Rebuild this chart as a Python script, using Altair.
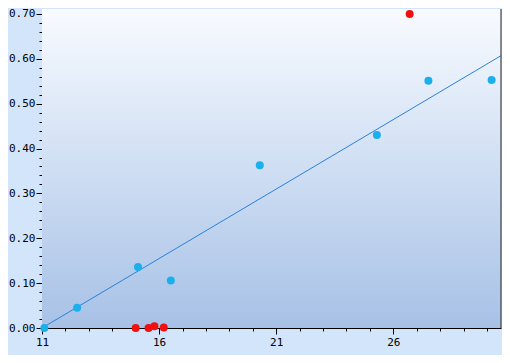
import altair as alt
import pandas as pd

# ---- data ----
blue_x = [11.1, 12.5, 15.1, 16.5, 20.3, 25.3, 27.5, 30.2]
blue_y = [0.0, 0.045, 0.136, 0.106, 0.363, 0.430, 0.551, 0.553]
red_x = [15.0, 15.55, 15.8, 16.2, 26.7]
red_y = [0.0, 0.0, 0.004, 0.001, 0.700]
trend_x = [11.0, 30.6]
trend_y = [0.0, 0.607]

x_ticks = list(range(11, 31))
y_ticks = [round(i * 0.02, 2) for i in range(36)]

x_min, x_max = 11.0, 30.6
y_min, y_max = 0.0, 0.711

blue = pd.DataFrame({"x": blue_x, "y": blue_y})
red = pd.DataFrame({"x": red_x, "y": red_y})
trend = pd.DataFrame({"x": trend_x, "y": trend_y})
one = pd.DataFrame({"a": [0]})

FONT = "DejaVu Sans Mono"

xscale = alt.Scale(domain=[x_min, x_max], nice=False, zero=False)
yscale = alt.Scale(domain=[y_min, y_max], nice=False, zero=False)

xaxis = alt.Axis(
    values=x_ticks,
    tickCount=len(x_ticks),
    title=None,
    grid=False,
    domainColor="black",
    tickColor="black",
    tickSize={"condition": {"test": "(datum.value - 11) % 5 === 0", "value": 6}, "value": 3},
    labelExpr="(datum.value - 11) % 5 === 0 ? datum.label : ''",
    labelFlush=False,
    labelOverlap=False,
    labelFont=FONT,
    labelFontSize=11,
    labelColor="black",
    labelPadding=2,
)
yaxis = alt.Axis(
    values=y_ticks,
    tickCount=len(y_ticks),
    title=None,
    grid=False,
    domainColor="black",
    tickColor="black",
    tickSize={"condition": {"test": "round(datum.value * 50) % 5 === 0", "value": 6}, "value": 3},
    labelExpr="round(datum.value * 50) % 5 === 0 ? format(datum.value, '.2f') : ''",
    labelFlush=False,
    labelOverlap=False,
    labelFont=FONT,
    labelFontSize=11,
    labelColor="black",
    labelPadding=1,
)

bg = alt.Chart(one).mark_rect(
    color=alt.Gradient(
        gradient="linear",
        stops=[
            alt.GradientStop(color="#f8fbff", offset=0),
            alt.GradientStop(color="#cfdef3", offset=0.5),
            alt.GradientStop(color="#a7c1e6", offset=1),
        ],
        x1=0, x2=0, y1=0, y2=1,
    )
).encode(
    x=alt.datum(x_min, scale=xscale, axis=xaxis),
    x2=alt.datum(x_max),
    y=alt.datum(y_min, scale=yscale, axis=yaxis),
    y2=alt.datum(y_max),
)

border = alt.Chart(one).mark_rule(color="#222222", strokeWidth=1).encode(
    x=alt.datum(x_max),
    y=alt.datum(y_min),
    y2=alt.datum(y_max),
)

line = alt.Chart(trend).mark_line(color="#2a80d8", strokeWidth=1, clip=True).encode(
    x=alt.X("x:Q"),
    y=alt.Y("y:Q"),
)

pts_blue = alt.Chart(blue).mark_circle(color="#1ab0ec", opacity=1, size=64).encode(
    x="x:Q", y="y:Q"
)
pts_red = alt.Chart(red).mark_circle(color="#f01010", opacity=1, size=64).encode(
    x="x:Q", y="y:Q"
)

chart = alt.layer(bg, line, pts_blue, pts_red, border).properties(
    width=494,
    height=347,
    autosize=alt.AutoSizeParams(type="fit", contains="padding"),
    padding={"left": 0, "top": 0, "right": 0, "bottom": 8},
    background="#d3e5fb",
).configure_view(stroke=None)

chart.save("out.html", embed_options={"renderer": "svg", "actions": False})
